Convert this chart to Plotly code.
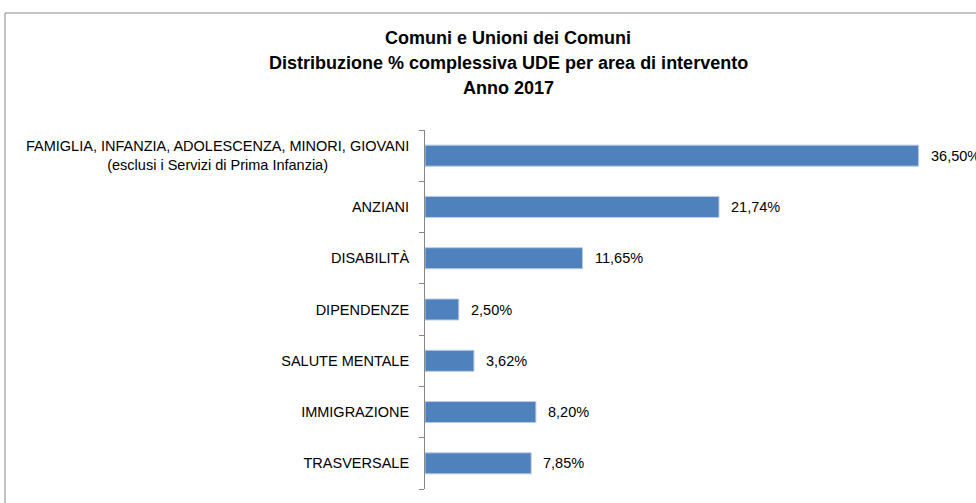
import plotly.graph_objects as go

categories = [
    "FAMIGLIA, INFANZIA, ADOLESCENZA, MINORI, GIOVANI<br>(esclusi i Servizi di Prima Infanzia)",
    "ANZIANI",
    "DISABILITÀ",
    "DIPENDENZE",
    "SALUTE MENTALE",
    "IMMIGRAZIONE",
    "TRASVERSALE",
]
values = [36.50, 21.74, 11.65, 2.50, 3.62, 8.20, 7.85]
title_lines = ["Comuni e Unioni dei Comuni",
               "Distribuzione % complessiva UDE per area di intervento",
               "Anno 2017"]

FONT = "Liberation Sans"
W, H = 976, 503
L, R, T, B = 425, 10, 130, 14
pw = W - L - R
ph = H - T - B

fig = go.Figure()
fig.add_trace(go.Bar(
    x=values, y=categories, orientation="h",
    marker=dict(color="#4F81BD", line=dict(color="#B9CDE5", width=1)),
    width=0.41,
    hoverinfo="skip",
))

annotations = []
for c, v in zip(categories, values):
    annotations.append(dict(
        x=v, y=c, xref="x", yref="y", text=f"{v:.2f}".replace(".", ",") + "%",
        showarrow=False, xanchor="left", xshift=10,
        font=dict(family=FONT, size=14.5, color="#000000"),
    ))
# multi-line centered label for the first category
annotations.append(dict(
    x=0, y=categories[0], xref="x", yref="y", text=categories[0],
    showarrow=False, xanchor="right", xshift=-14, align="center",
    font=dict(family=FONT, size=14.5, color="#000000"),
))
# title lines
for i, line in enumerate(title_lines):
    ypix = 38 + 25 * i
    annotations.append(dict(
        x=(508 - L) / pw, y=(H - B - ypix) / ph, xref="paper", yref="paper",
        text=f"<b>{line}</b>", showarrow=False, xanchor="center", yanchor="middle",
        font=dict(family=FONT, size=18, color="#000000"),
    ))
ticktext = [""] + categories[1:]

fig.update_layout(
    width=W, height=H,
    margin=dict(l=L, r=R, t=T, b=B),
    paper_bgcolor="white", plot_bgcolor="white",
    showlegend=False,
    xaxis=dict(range=[0, 40], visible=False, fixedrange=True),
    yaxis=dict(
        type="category", autorange="reversed",
        tickmode="array", tickvals=categories, ticktext=ticktext,
        showline=True, linecolor="#868686", linewidth=1,
        ticks="outside", tickson="boundaries", ticklen=5, tickcolor="#868686",
        showgrid=False, ticklabelstandoff=12,
        tickfont=dict(family=FONT, size=14.5, color="#000000"),
    ),
    annotations=annotations,
    shapes=[dict(type="rect", xref="paper", yref="paper",
                 x0=(5 - L) / pw, x1=(W + 20 - L) / pw,
                 y0=-(B + 20) / ph, y1=(H - B - 13) / ph,
                 line=dict(color="#888888", width=1), layer="below")],
)
fig.write_html("out.html", config={"displayModeBar": False},
               post_script="document.body.style.margin='0';document.body.style.overflow='hidden';")
